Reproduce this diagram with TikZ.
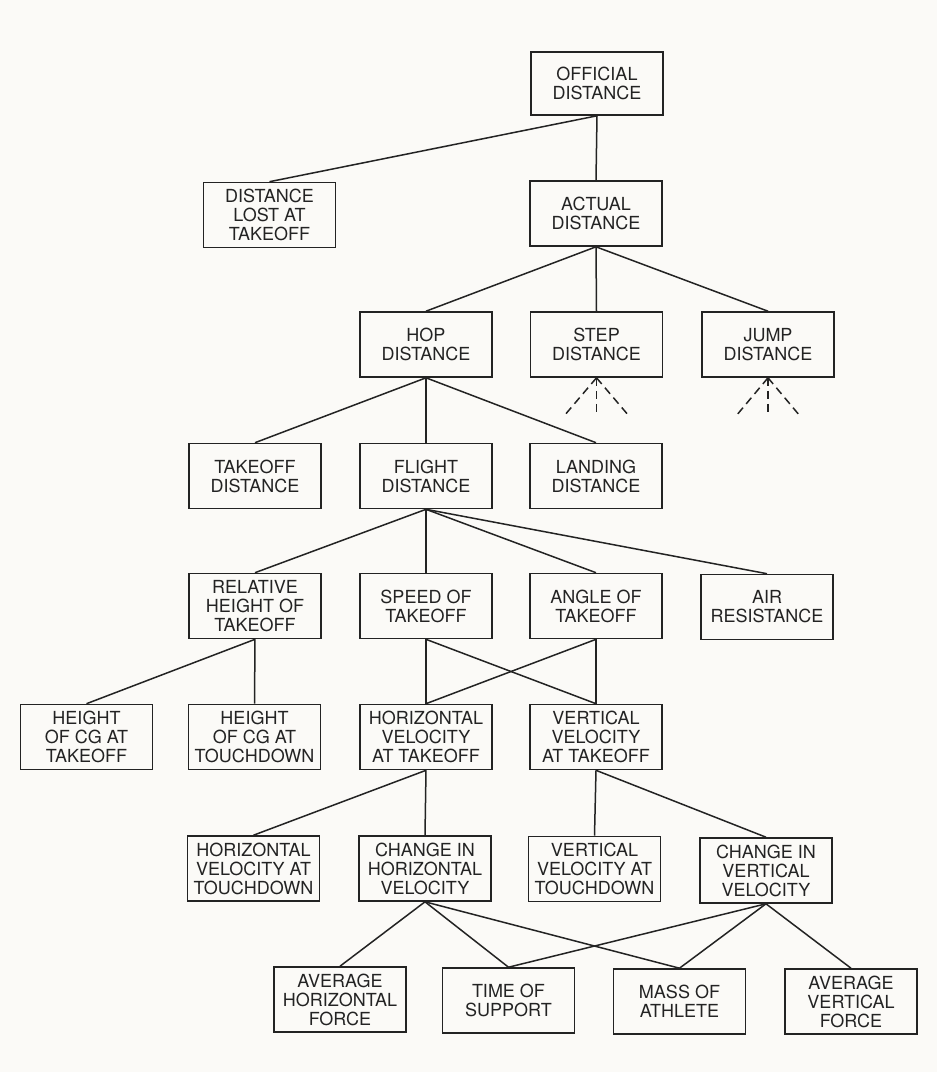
\documentclass[tikz,border=0pt]{standalone}
\usepackage{fontspec}
\setmainfont{TeX Gyre Heros}
\definecolor{paper}{RGB}{251,250,247}
\definecolor{ink}{RGB}{35,35,35}
\tikzset{
  box/.style={draw=ink, line width=1.6pt, minimum width=132pt, minimum height=65pt,
    inner sep=0pt, align=center, font=\fontsize{18}{19}\selectfont, text=ink},
  link/.style={draw=ink, line width=1.5pt},
  dlink/.style={draw=ink, line width=1.5pt, dash pattern=on 8pt off 5pt}
}
\begin{document}
\begin{tikzpicture}[x=1pt,y=-1pt]
\fill[paper] (0,0) rectangle (937,1072);
\useasboundingbox (0,0) rectangle (937,1072);
% row 1
\node[box, minimum height=63pt] (off) at (597,83.5) {OFFICIAL\\DISTANCE};
% row 2
\node[box] (dlat) at (269.5,215) {DISTANCE\\LOST AT\\TAKEOFF};
\node[box] (act) at (596,213.5) {ACTUAL\\DISTANCE};
% row 3
\node[box] (hop) at (426,344.5) {HOP\\DISTANCE};
\node[box] (step) at (596.5,344.5) {STEP\\DISTANCE};
\node[box] (jump) at (768,344.5) {JUMP\\DISTANCE};
% row 4
\node[box] (tod) at (255,476) {TAKEOFF\\DISTANCE};
\node[box] (fli) at (426,476) {FLIGHT\\DISTANCE};
\node[box] (lan) at (596,476) {LANDING\\DISTANCE};
% row 5
\node[box] (rel) at (255,606) {RELATIVE\\HEIGHT OF\\TAKEOFF};
\node[box] (spd) at (426,606) {SPEED OF\\TAKEOFF};
\node[box] (ang) at (596,606) {ANGLE OF\\TAKEOFF};
\node[box] (air) at (767,607) {AIR\\RESISTANCE};
% row 6
\node[box] (hcga) at (86.5,737) {HEIGHT\\OF CG AT\\TAKEOFF};
\node[box] (hcgb) at (254.5,737) {HEIGHT\\OF CG AT\\TOUCHDOWN};
\node[box] (hvt) at (426,737) {HORIZONTAL\\VELOCITY\\AT TAKEOFF};
\node[box] (vvt) at (596,737) {VERTICAL\\VELOCITY\\AT TAKEOFF};
% row 7
\node[box] (hvtd) at (253.5,868.5) {HORIZONTAL\\VELOCITY AT\\TOUCHDOWN};
\node[box] (cih) at (425,868.5) {CHANGE IN\\HORIZONTAL\\VELOCITY};
\node[box] (vvtd) at (594.5,869) {VERTICAL\\VELOCITY AT\\TOUCHDOWN};
\node[box] (civ) at (766,870.5) {CHANGE IN\\VERTICAL\\VELOCITY};
% row 8
\node[box] (ahf) at (340,999.5) {AVERAGE\\HORIZONTAL\\FORCE};
\node[box] (tos) at (508.5,1000.5) {TIME OF\\SUPPORT};
\node[box] (mass) at (679.5,1001.5) {MASS OF\\ATHLETE};
\node[box] (avf) at (851,1001.5) {AVERAGE\\VERTICAL\\FORCE};
% connectors
\draw[link] (off.south) -- (dlat.north);
\draw[link] (off.south) -- (act.north);
\draw[link] (act.south) -- (hop.north);
\draw[link] (act.south) -- (step.north);
\draw[link] (act.south) -- (jump.north);
\draw[link] (hop.south) -- (tod.north);
\draw[link] (hop.south) -- (fli.north);
\draw[link] (hop.south) -- (lan.north);
\draw[link] (fli.south) -- (rel.north);
\draw[link] (fli.south) -- (spd.north);
\draw[link] (fli.south) -- (ang.north);
\draw[link] (fli.south) -- (air.north);
\draw[link] (rel.south) -- (hcga.north);
\draw[link] (rel.south) -- (hcgb.north);
\draw[link] (spd.south) -- (hvt.north);
\draw[link] (spd.south) -- (vvt.north);
\draw[link] (ang.south) -- (hvt.north);
\draw[link] (ang.south) -- (vvt.north);
\draw[link] (hvt.south) -- (hvtd.north);
\draw[link] (hvt.south) -- (cih.north);
\draw[link] (vvt.south) -- (vvtd.north);
\draw[link] (vvt.south) -- (civ.north);
\draw[link] (cih.south) -- (ahf.north);
\draw[link] (cih.south) -- (tos.north);
\draw[link] (cih.south) -- (mass.north);
\draw[link] (civ.south) -- (tos.north);
\draw[link] (civ.south) -- (mass.north);
\draw[link] (civ.south) -- (avf.north);
% dashed stubs
\coordinate (s1) at (564,416);
\coordinate (s2) at (596.5,416);
\coordinate (s3) at (629,416);
\coordinate (j1) at (736,416);
\coordinate (j2) at (768,416);
\coordinate (j3) at (800,416);
\draw[dlink] (step.south) -- (s1);
\draw[dlink] (step.south) -- (s2);
\draw[dlink] (step.south) -- (s3);
\draw[dlink] (jump.south) -- (j1);
\draw[dlink] (jump.south) -- (j2);
\draw[dlink] (jump.south) -- (j3);
\end{tikzpicture}
\end{document}
